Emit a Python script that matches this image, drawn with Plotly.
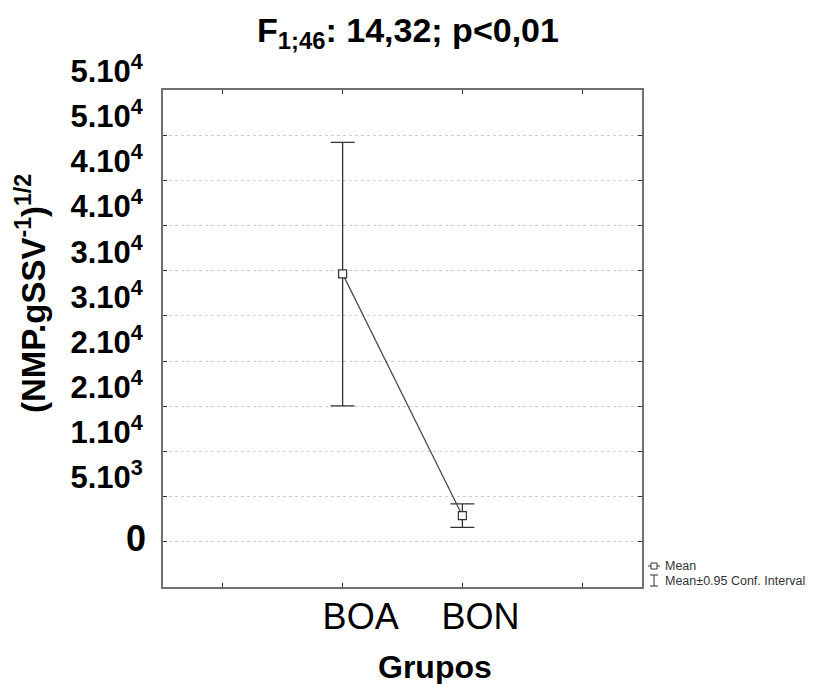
import plotly.graph_objects as go

# ---- data ----
groups = ["BOA", "BON"]
mean_vals = [29650, 2900]
ci_low = [15050, 1600]
ci_high = [44200, 4200]

y_tick_vals = [5000, 10000, 15000, 20000, 25000, 30000, 35000, 40000, 45000, 50000]
y_tick_text = ["5.10<sup>3</sup>", "1.10<sup>4</sup>", "2.10<sup>4</sup>", "2.10<sup>4</sup>",
               "3.10<sup>4</sup>", "3.10<sup>4</sup>", "4.10<sup>4</sup>", "4.10<sup>4</sup>",
               "5.10<sup>4</sup>", "5.10<sup>4</sup>"]
zero_value = 0
zero_label = "0"

title_text = "F<sub>1;46</sub>: 14,32; p&lt;0,01"
y_title = "(NMP.gSSV<sup>-1</sup>)<sup>1/2</sup>"
x_title = "Grupos"
legend_mean = "Mean"
legend_ci = "Mean±0.95 Conf. Interval"

FONT = "Liberation Sans, Arial, sans-serif"
W, H = 829, 684
L, R, T, B = 163, 642, 90, 587


def px(xp):
    return (xp - L) / (R - L)


def py(yp):
    return (B - yp) / (B - T)


x_idx = [i + 1 for i in range(len(groups))]
err_plus = [h - m for h, m in zip(ci_high, mean_vals)]
err_minus = [m - l for m, l in zip(mean_vals, ci_low)]

fig = go.Figure()
fig.add_trace(go.Scatter(
    x=x_idx, y=mean_vals, mode="lines+markers",
    line=dict(color="#444444", width=1.2),
    marker=dict(symbol="square", size=8, color="white",
                line=dict(color="#333333", width=1.2)),
    error_y=dict(type="data", symmetric=False, array=err_plus, arrayminus=err_minus,
                 color="#333333", thickness=1.3, width=12),
    showlegend=False, hoverinfo="skip",
))

fig.update_layout(
    width=W, height=H,
    margin=dict(l=L, r=W - R, t=T, b=H - B, pad=0),
    paper_bgcolor="white", plot_bgcolor="white",
    showlegend=False,
    title=dict(text=title_text, x=408 / W, xanchor="center", xref="container",
               y=1 - 30 / H, yanchor="middle",
               font=dict(family=FONT, size=34, color="black", weight="bold")),
    xaxis=dict(
        range=[-0.5, len(groups) + 1.5],
        tickmode="array",
        tickvals=list(range(0, len(groups) + 2)),
        ticktext=[""] + groups + [""],
        ticks="inside", ticklen=4, tickwidth=1.3, tickcolor="#333333",
        showline=True, linecolor="#707070", linewidth=2, mirror="ticks",
        showgrid=False, zeroline=False,
        tickfont=dict(family=FONT, size=36, color="black"),
        ticklabelshift=18, ticklabelstandoff=-3,
    ),
    yaxis=dict(
        range=[-5000, 50000],
        tickmode="array",
        tickvals=[zero_value] + y_tick_vals,
        ticktext=[""] + y_tick_text,
        ticks="inside", ticklen=4, tickwidth=1.3, tickcolor="#333333",
        showline=True, linecolor="#707070", linewidth=2, mirror="ticks",
        showgrid=True, gridcolor="#cccccc", gridwidth=1, griddash="dot",
        zeroline=False,
        tickfont=dict(family=FONT, size=31, color="black", weight="bold"),
        ticklabelshift=-19, ticklabelstandoff=12,
    ),
)

annotations = [
    dict(text=zero_label, x=0, y=zero_value, xref="paper", yref="y",
         xanchor="right", yanchor="middle", xshift=-15, yshift=3, showarrow=False,
         font=dict(family=FONT, size=36, color="black", weight="bold")),
    dict(text=y_title, textangle=-90, x=px(31), y=py(294), xref="paper", yref="paper",
         xanchor="center", yanchor="middle", showarrow=False,
         font=dict(family=FONT, size=33, color="black", weight="bold")),
    dict(text=x_title, x=px(435), y=py(667), xref="paper", yref="paper",
         xanchor="center", yanchor="middle", showarrow=False,
         font=dict(family=FONT, size=32, color="black", weight="bold")),
    dict(text=legend_mean, x=px(663), y=py(565.5), xref="paper", yref="paper",
         xanchor="left", yanchor="middle", showarrow=False,
         font=dict(family=FONT, size=12.5, color="#333333")),
    dict(text=legend_ci, x=px(663), y=py(580.5), xref="paper", yref="paper",
         xanchor="left", yanchor="middle", showarrow=False,
         font=dict(family=FONT, size=12.5, color="#333333")),
]
fig.update_layout(annotations=annotations)

icon = dict(color="#333333", width=1)
shapes = [
    dict(type="line", xref="paper", yref="paper", x0=px(648), x1=px(660), y0=py(566), y1=py(566), line=icon),
    dict(type="rect", xref="paper", yref="paper", x0=px(651), x1=px(657), y0=py(563), y1=py(569),
         line=icon, fillcolor="white"),
    dict(type="line", xref="paper", yref="paper", x0=px(654), x1=px(654), y0=py(575), y1=py(586), line=icon),
    dict(type="line", xref="paper", yref="paper", x0=px(650), x1=px(658), y0=py(575), y1=py(575), line=icon),
    dict(type="line", xref="paper", yref="paper", x0=px(650), x1=px(658), y0=py(586), y1=py(586), line=icon),
]
fig.update_layout(shapes=shapes)

fig.write_html("out.html")
